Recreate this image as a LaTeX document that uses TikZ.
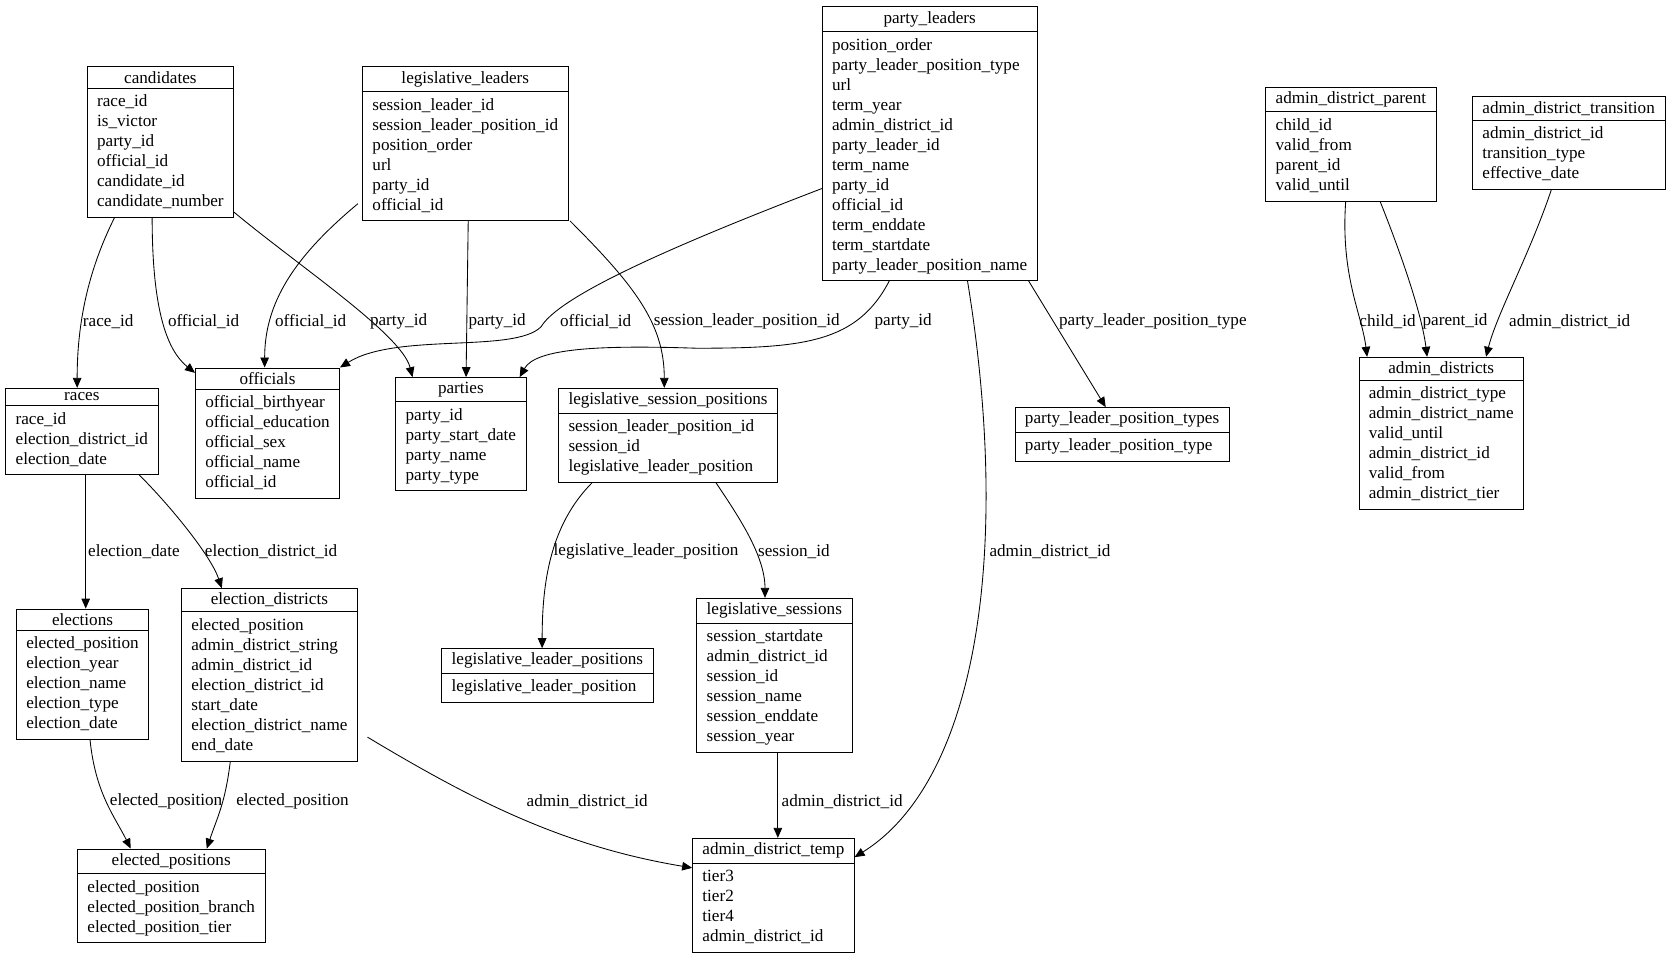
\documentclass[tikz,border=0pt]{standalone}
\usepackage{fontspec}
\setmainfont{Liberation Serif}
\usetikzlibrary{shapes.multipart,arrows.meta}
\begin{document}
\begin{tikzpicture}[x=0.75pt,y=-0.75pt,
  tbl/.style={rectangle split,rectangle split parts=2,draw,anchor=north west,
    rectangle split part align={center,left},inner xsep=7pt,inner ysep=3pt,
    font=\fontsize{12}{14}\selectfont},
  e/.style={-{Triangle[length=7pt,width=6pt]},line width=0.6pt},
  lb/.style={font=\fontsize{12}{14}\selectfont}]
\useasboundingbox (0,0) rectangle (1568,900);
\newcommand{\rows}[1]{\begin{tabular}{@{}l@{}}#1\end{tabular}}
\node[tbl] (cand) at (81,62) {candidates\nodepart{two}\rows{race\_id\\is\_victor\\party\_id\\official\_id\\candidate\_id\\candidate\_number}};
\node[tbl] (ll) at (338,62) {legislative\_leaders\nodepart{two}\rows{session\_leader\_id\\session\_leader\_position\_id\\position\_order\\url\\party\_id\\official\_id}};
\node[tbl] (pl) at (767,6) {party\_leaders\nodepart{two}\rows{position\_order\\party\_leader\_position\_type\\url\\term\_year\\admin\_district\_id\\party\_leader\_id\\term\_name\\party\_id\\official\_id\\term\_enddate\\term\_startdate\\party\_leader\_position\_name}};
\node[tbl] (adp) at (1181,81) {admin\_district\_parent\nodepart{two}\rows{child\_id\\valid\_from\\parent\_id\\valid\_until}};
\node[tbl] (adtr) at (1374,90) {admin\_district\_transition\nodepart{two}\rows{admin\_district\_id\\transition\_type\\effective\_date}};
\node[tbl] (races) at (5,362) {races\nodepart{two}\rows{race\_id\\election\_district\_id\\election\_date}};
\node[tbl] (off) at (182,343) {officials\nodepart{two}\rows{official\_birthyear\\official\_education\\official\_sex\\official\_name\\official\_id}};
\node[tbl] (par) at (369,352) {parties\nodepart{two}\rows{party\_id\\party\_start\_date\\party\_name\\party\_type}};
\node[tbl] (lsp) at (521,362) {legislative\_session\_positions\nodepart{two}\rows{session\_leader\_position\_id\\session\_id\\legislative\_leader\_position}};
\node[tbl] (plpt) at (947,380) {party\_leader\_position\_types\nodepart{two}\rows{party\_leader\_position\_type}};
\node[tbl] (ad) at (1268,333) {admin\_districts\nodepart{two}\rows{admin\_district\_type\\admin\_district\_name\\valid\_until\\admin\_district\_id\\valid\_from\\admin\_district\_tier}};
\node[tbl] (el) at (15,568) {elections\nodepart{two}\rows{elected\_position\\election\_year\\election\_name\\election\_type\\election\_date}};
\node[tbl] (ed) at (169,549) {election\_districts\nodepart{two}\rows{elected\_position\\admin\_district\_string\\admin\_district\_id\\election\_district\_id\\start\_date\\election\_district\_name\\end\_date}};
\node[tbl] (llp) at (412,605) {legislative\_leader\_positions\nodepart{two}\rows{legislative\_leader\_position}};
\node[tbl] (ls) at (650,558) {legislative\_sessions\nodepart{two}\rows{session\_startdate\\admin\_district\_id\\session\_id\\session\_name\\session\_enddate\\session\_year}};
\node[tbl] (ep) at (72,792) {elected\_positions\nodepart{two}\rows{elected\_position\\elected\_position\_branch\\elected\_position\_tier}};
\node[tbl] (adt) at (646,782) {admin\_district\_temp\nodepart{two}\rows{tier3\\tier2\\tier4\\admin\_district\_id}};

% edges
\draw[e] ([shift={(26,0)}]cand.south west) .. controls +(-25,50) and +(0,-60) .. ([shift={(67,0)}]races.north west);
\draw[e] ([shift={(61,0)}]cand.south west) .. controls +(0,90) and +(-25,-20) .. ([shift={(0,5)}]off.north west);
\draw[e] ([shift={(0,136)}]cand.north east) .. controls +(60,50) and +(-10,-40) .. ([shift={(16,0)}]par.north west);
\draw[e] ([shift={(-4,-16)}]ll.south west) .. controls +(-60,50) and +(0,-60) .. ([shift={(65,0)}]off.north west);
\draw[e] ([shift={(99,0)}]ll.south west) -- ([shift={(66,0)}]par.north west);
\draw[e] ([shift={(194,0)}]ll.south west) .. controls +(60,60) and +(0,-60) .. ([shift={(99,0)}]lsp.north west);
\draw[e] ([shift={(0,170)}]pl.north west) .. controls (600,240) and (520,280) .. (505,305) .. controls (480,330) and (370,310) .. ([shift={(0,0)}]off.north east);
\draw[e] ([shift={(63,0)}]pl.south west) .. controls (800,320) and (750,325) .. (650,325) .. controls (560,322) and (500,325) .. ([shift={(116,0)}]par.north west);
\draw[e] ([shift={(193,0)}]pl.south west) -- ([shift={(85,0)}]plpt.north west);
\draw[e] ([shift={(136,0)}]pl.south west) .. controls (945,520) and (910,730) .. ([shift={(0,18)}]adt.north east);
\draw[e] ([shift={(75,0)}]adp.south west) .. controls +(-5,70) and +(-5,-40) .. ([shift={(8,0)}]ad.north west);
\draw[e] ([shift={(107,0)}]adp.south west) .. controls +(20,50) and +(-5,-40) .. ([shift={(64,0)}]ad.north west);
\draw[e] ([shift={(74,0)}]adtr.south west) .. controls +(-20,60) and +(10,-40) .. ([shift={(119,0)}]ad.north west);
\draw[e] ([shift={(75,0)}]races.south west) -- ([shift={(65,0)}]el.north west);
\draw[e] ([shift={(125,0)}]races.south west) .. controls +(30,30) and +(-10,-30) .. ([shift={(38,0)}]ed.north west);
\draw[e] ([shift={(32,0)}]lsp.south west) .. controls +(-40,40) and +(0,-60) .. ([shift={(94,0)}]llp.north west);
\draw[e] ([shift={(147,0)}]lsp.south west) .. controls +(20,30) and +(0,-40) .. ([shift={(64,0)}]ls.north west);
\draw[e] ([shift={(69,0)}]el.south west) .. controls +(5,50) and +(-15,-30) .. ([shift={(50,0)}]ep.north west);
\draw[e] ([shift={(46,0)}]ed.south west) .. controls +(-5,40) and +(10,-30) .. ([shift={(121,0)}]ep.north west);
\draw[e] ([shift={(0,139)}]ed.north west) ++(174,0) .. controls +(100,60) and +(-120,-20) .. ([shift={(0,28)}]adt.north west);
\draw[e] ([shift={(76,0)}]ls.south west) -- ([shift={(80,0)}]adt.north west);

% labels
\node[lb] at (101,300) {race\_id};
\node[lb] at (190,300) {official\_id};
\node[lb] at (290,300) {official\_id};
\node[lb] at (372,300) {party\_id};
\node[lb] at (464,300) {party\_id};
\node[lb] at (556,300) {official\_id};
\node[lb] at (697,300) {session\_leader\_position\_id};
\node[lb] at (843,300) {party\_id};
\node[lb] at (1076,300) {party\_leader\_position\_type};
\node[lb] at (1295,300) {child\_id};
\node[lb] at (1358,300) {parent\_id};
\node[lb] at (1465,300) {admin\_district\_id};
\node[lb] at (125,515) {election\_date};
\node[lb] at (253,515) {election\_district\_id};
\node[lb] at (603,515) {legislative\_leader\_position};
\node[lb] at (741,515) {session\_id};
\node[lb] at (980,515) {admin\_district\_id};
\node[lb] at (155,748) {elected\_position};
\node[lb] at (273,748) {elected\_position};
\node[lb] at (548,748) {admin\_district\_id};
\node[lb] at (786,748) {admin\_district\_id};
\end{tikzpicture}
\end{document}
